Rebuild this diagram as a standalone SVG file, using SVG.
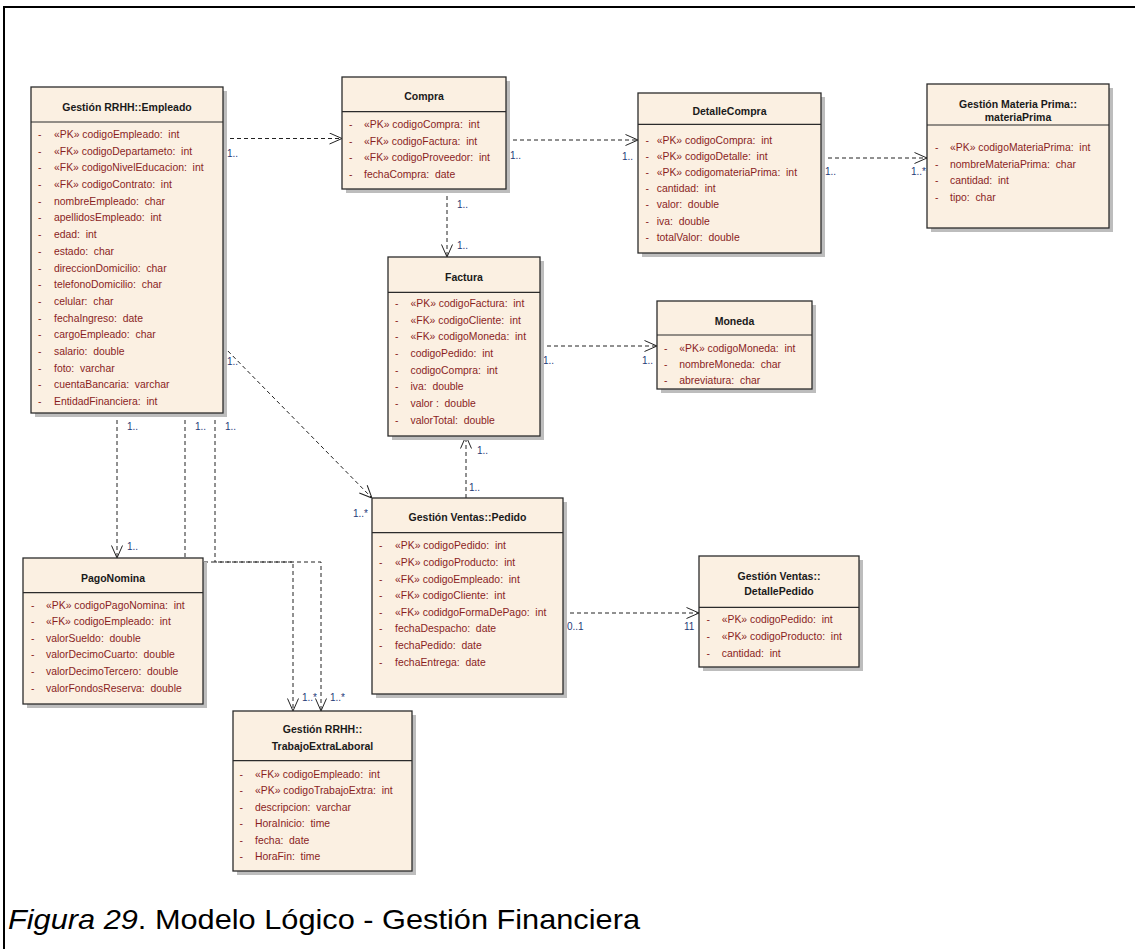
<svg xmlns="http://www.w3.org/2000/svg" width="1135" height="949" viewBox="0 0 1135 949" xml:space="preserve">
  <style>
    .frame { fill: none; stroke: #000; stroke-width: 2; }
    .shadow { fill: #bdbdbd; }
    .box { fill: #fbf0e2; stroke: #2b2b2b; stroke-width: 1.3; }
    .div { stroke: #2b2b2b; stroke-width: 1.2; }
    .title { font-family: "Liberation Sans", Arial, sans-serif; font-size: 10.5px; font-weight: bold; fill: #1a1a1a; text-anchor: middle; }
    .attr { font-family: "Liberation Sans", Arial, sans-serif; font-size: 10.4px; fill: #8a1e1e; white-space: pre; }
    .mult { font-family: "Liberation Sans", Arial, sans-serif; font-size: 10px; fill: #1f3a78; }
    .dep { fill: none; stroke: #222; stroke-width: 1; stroke-dasharray: 4 3; marker-end: url(#open); }
    .caption { font-family: "Liberation Sans", Arial, sans-serif; font-size: 28.5px; fill: #000; }
  </style>
  <defs>
    <marker id="open" viewBox="0 0 13 12" refX="13" refY="6" markerWidth="13" markerHeight="12" markerUnits="userSpaceOnUse" orient="auto">
      <path d="M0.5,0.5 L13,6 L0.5,11.5" fill="none" stroke="#222" stroke-width="1"/>
    </marker>
  </defs>

  <rect width="1135" height="949" fill="#fff"/>
  <path class="frame" d="M4,949 V7 H1135"/>

  <!-- dependencies -->
  <g id="connectors">
    <path class="dep" d="M223,138.5 H342"/>
    <path class="dep" d="M506,140 H638"/>
    <path class="dep" d="M821,158 H927"/>
    <path class="dep" d="M447,189 V257"/>
    <path class="dep" d="M540,346 H657"/>
    <path class="dep" d="M466,498 V436"/>
    <path class="dep" d="M563,613 H699"/>
    <path class="dep" d="M223,346 L372,498"/>
    <path class="dep" d="M117,413 V558"/>
    <path class="dep" d="M185,413 V562 H293 V711"/>
    <path class="dep" d="M215,413 V562 H321 V711"/>

    <text class="mult" x="227" y="157">1..</text>
    <text class="mult" x="510" y="158.5">1..</text>
    <text class="mult" x="622" y="159.5">1..</text>
    <text class="mult" x="825" y="175">1..</text>
    <text class="mult" x="911" y="175">1..*</text>
    <text class="mult" x="457" y="208">1..</text>
    <text class="mult" x="457" y="248.5">1..</text>
    <text class="mult" x="543" y="363.5">1..</text>
    <text class="mult" x="642" y="363.5">1..</text>
    <text class="mult" x="477" y="454">1..</text>
    <text class="mult" x="469" y="491">1..</text>
    <text class="mult" x="567" y="630">0..1</text>
    <text class="mult" x="684" y="630">11</text>
    <text class="mult" x="227" y="365">1..</text>
    <text class="mult" x="353" y="517">1..*</text>
    <text class="mult" x="127" y="430">1..</text>
    <text class="mult" x="127" y="549.5">1..</text>
    <text class="mult" x="195" y="430">1..</text>
    <text class="mult" x="225" y="430">1..</text>
    <text class="mult" x="302" y="700.5">1..*</text>
    <text class="mult" x="330" y="700.5">1..*</text>
  </g>

  <!-- Gestión RRHH::Empleado -->
  <g id="empleado">
    <rect class="shadow" x="35" y="91" width="192" height="326"/>
    <rect class="box" x="31" y="87" width="192" height="326"/>
    <line class="div" x1="31" y1="122" x2="223" y2="122"/>
    <text class="title" x="127" y="110.5">Gestión RRHH::Empleado</text>
    <text class="attr" y="137.9"><tspan x="38">-</tspan><tspan x="54">«PK» codigoEmpleado:  int</tspan></text>
    <text class="attr" y="154.6"><tspan x="38">-</tspan><tspan x="54">«FK» codigoDepartameto:  int</tspan></text>
    <text class="attr" y="171.3"><tspan x="38">-</tspan><tspan x="54">«FK» codigoNivelEducacion:  int</tspan></text>
    <text class="attr" y="188"><tspan x="38">-</tspan><tspan x="54">«FK» codigoContrato:  int</tspan></text>
    <text class="attr" y="204.7"><tspan x="38">-</tspan><tspan x="54">nombreEmpleado:  char</tspan></text>
    <text class="attr" y="221.4"><tspan x="38">-</tspan><tspan x="54">apellidosEmpleado:  int</tspan></text>
    <text class="attr" y="238.1"><tspan x="38">-</tspan><tspan x="54">edad:  int</tspan></text>
    <text class="attr" y="254.8"><tspan x="38">-</tspan><tspan x="54">estado:  char</tspan></text>
    <text class="attr" y="271.5"><tspan x="38">-</tspan><tspan x="54">direccionDomicilio:  char</tspan></text>
    <text class="attr" y="288.2"><tspan x="38">-</tspan><tspan x="54">telefonoDomicilio:  char</tspan></text>
    <text class="attr" y="304.9"><tspan x="38">-</tspan><tspan x="54">celular:  char</tspan></text>
    <text class="attr" y="321.6"><tspan x="38">-</tspan><tspan x="54">fechaIngreso:  date</tspan></text>
    <text class="attr" y="338.3"><tspan x="38">-</tspan><tspan x="54">cargoEmpleado:  char</tspan></text>
    <text class="attr" y="355"><tspan x="38">-</tspan><tspan x="54">salario:  double</tspan></text>
    <text class="attr" y="371.7"><tspan x="38">-</tspan><tspan x="54">foto:  varchar</tspan></text>
    <text class="attr" y="388.4"><tspan x="38">-</tspan><tspan x="54">cuentaBancaria:  varchar</tspan></text>
    <text class="attr" y="405.1"><tspan x="38">-</tspan><tspan x="54">EntidadFinanciera:  int</tspan></text>
  </g>

  <!-- Compra -->
  <g id="compra">
    <rect class="shadow" x="346" y="81" width="164" height="112"/>
    <rect class="box" x="342" y="77" width="164" height="112"/>
    <line class="div" x1="342" y1="111.7" x2="506" y2="111.7"/>
    <text class="title" x="424" y="99.8">Compra</text>
    <text class="attr" y="127.9"><tspan x="349">-</tspan><tspan x="364">«PK» codigoCompra:  int</tspan></text>
    <text class="attr" y="144.5"><tspan x="349">-</tspan><tspan x="364">«FK» codigoFactura:  int</tspan></text>
    <text class="attr" y="161.1"><tspan x="349">-</tspan><tspan x="364">«FK» codigoProveedor:  int</tspan></text>
    <text class="attr" y="177.7"><tspan x="349">-</tspan><tspan x="364">fechaCompra:  date</tspan></text>
  </g>

  <!-- DetalleCompra -->
  <g id="detalle-compra">
    <rect class="shadow" x="642" y="97" width="183" height="160"/>
    <rect class="box" x="638" y="93" width="183" height="160"/>
    <line class="div" x1="638" y1="124.3" x2="821" y2="124.3"/>
    <text class="title" x="729.5" y="114.8">DetalleCompra</text>
    <text class="attr" y="143.6"><tspan x="645.5">-</tspan><tspan x="656.7">«PK» codigoCompra:  int</tspan></text>
    <text class="attr" y="159.8"><tspan x="645.5">-</tspan><tspan x="656.7">«PK» codigoDetalle:  int</tspan></text>
    <text class="attr" y="176"><tspan x="645.5">-</tspan><tspan x="656.7">«PK» codigomateriaPrima:  int</tspan></text>
    <text class="attr" y="192.2"><tspan x="645.5">-</tspan><tspan x="656.7">cantidad:  int</tspan></text>
    <text class="attr" y="208.4"><tspan x="645.5">-</tspan><tspan x="656.7">valor:  double</tspan></text>
    <text class="attr" y="224.6"><tspan x="645.5">-</tspan><tspan x="656.7">iva:  double</tspan></text>
    <text class="attr" y="240.8"><tspan x="645.5">-</tspan><tspan x="656.7">totalValor:  double</tspan></text>
  </g>

  <!-- Gestión Materia Prima::materiaPrima -->
  <g id="materia-prima">
    <rect class="shadow" x="931" y="88" width="182" height="144"/>
    <rect class="box" x="927" y="84" width="182" height="144"/>
    <line class="div" x1="927" y1="125" x2="1109" y2="125"/>
    <text class="title" x="1018" y="107.8">Gestión Materia Prima::</text>
    <text class="title" x="1018" y="121.1">materiaPrima</text>
    <text class="attr" y="151.3"><tspan x="935">-</tspan><tspan x="950">«PK» codigoMateriaPrima:  int</tspan></text>
    <text class="attr" y="167.7"><tspan x="935">-</tspan><tspan x="950">nombreMateriaPrima:  char</tspan></text>
    <text class="attr" y="184.1"><tspan x="935">-</tspan><tspan x="950">cantidad:  int</tspan></text>
    <text class="attr" y="200.5"><tspan x="935">-</tspan><tspan x="950">tipo:  char</tspan></text>
  </g>

  <!-- Factura -->
  <g id="factura">
    <rect class="shadow" x="392" y="261" width="152" height="179"/>
    <rect class="box" x="388" y="257" width="152" height="179"/>
    <line class="div" x1="388" y1="292.3" x2="540" y2="292.3"/>
    <text class="title" x="464" y="280.5">Factura</text>
    <text class="attr" y="306.9"><tspan x="395">-</tspan><tspan x="410.5">«PK» codigoFactura:  int</tspan></text>
    <text class="attr" y="323.6"><tspan x="395">-</tspan><tspan x="410.5">«FK» codigoCliente:  int</tspan></text>
    <text class="attr" y="340.2"><tspan x="395">-</tspan><tspan x="410.5">«FK» codigoMoneda:  int</tspan></text>
    <text class="attr" y="356.9"><tspan x="395">-</tspan><tspan x="410.5">codigoPedido:  int</tspan></text>
    <text class="attr" y="373.6"><tspan x="395">-</tspan><tspan x="410.5">codigoCompra:  int</tspan></text>
    <text class="attr" y="390.2"><tspan x="395">-</tspan><tspan x="410.5">iva:  double</tspan></text>
    <text class="attr" y="406.9"><tspan x="395">-</tspan><tspan x="410.5">valor :  double</tspan></text>
    <text class="attr" y="423.6"><tspan x="395">-</tspan><tspan x="410.5">valorTotal:  double</tspan></text>
  </g>

  <!-- Moneda -->
  <g id="moneda">
    <rect class="shadow" x="661" y="305" width="155" height="88"/>
    <rect class="box" x="657" y="301" width="155" height="88"/>
    <line class="div" x1="657" y1="335" x2="812" y2="335"/>
    <text class="title" x="734.5" y="324.8">Moneda</text>
    <text class="attr" y="351.9"><tspan x="664">-</tspan><tspan x="679.3">«PK» codigoMoneda:  int</tspan></text>
    <text class="attr" y="368.1"><tspan x="664">-</tspan><tspan x="679.3">nombreMoneda:  char</tspan></text>
    <text class="attr" y="384.3"><tspan x="664">-</tspan><tspan x="679.3">abreviatura:  char</tspan></text>
  </g>

  <!-- Gestión Ventas::Pedido -->
  <g id="pedido">
    <rect class="shadow" x="376" y="502" width="191" height="196"/>
    <rect class="box" x="372" y="498" width="191" height="196"/>
    <line class="div" x1="372" y1="532.7" x2="563" y2="532.7"/>
    <text class="title" x="467.5" y="521.1">Gestión Ventas::Pedido</text>
    <text class="attr" y="549.3"><tspan x="379">-</tspan><tspan x="395">«PK» codigoPedido:  int</tspan></text>
    <text class="attr" y="565.9"><tspan x="379">-</tspan><tspan x="395">«PK» codigoProducto:  int</tspan></text>
    <text class="attr" y="582.5"><tspan x="379">-</tspan><tspan x="395">«FK» codigoEmpleado:  int</tspan></text>
    <text class="attr" y="599.1"><tspan x="379">-</tspan><tspan x="395">«FK» codigoCliente:  int</tspan></text>
    <text class="attr" y="615.7"><tspan x="379">-</tspan><tspan x="395">«FK» codidgoFormaDePago:  int</tspan></text>
    <text class="attr" y="632.3"><tspan x="379">-</tspan><tspan x="395">fechaDespacho:  date</tspan></text>
    <text class="attr" y="648.9"><tspan x="379">-</tspan><tspan x="395">fechaPedido:  date</tspan></text>
    <text class="attr" y="665.5"><tspan x="379">-</tspan><tspan x="395">fechaEntrega:  date</tspan></text>
  </g>

  <!-- Gestión Ventas::DetallePedido -->
  <g id="detalle-pedido">
    <rect class="shadow" x="703" y="560" width="160" height="111"/>
    <rect class="box" x="699" y="556" width="160" height="111"/>
    <line class="div" x1="699" y1="607.3" x2="859" y2="607.3"/>
    <text class="title" x="779" y="579.5">Gestión Ventas::</text>
    <text class="title" x="779" y="594.8">DetallePedido</text>
    <text class="attr" y="622.9"><tspan x="706.5">-</tspan><tspan x="721.7">«PK» codigoPedido:  int</tspan></text>
    <text class="attr" y="639.6"><tspan x="706.5">-</tspan><tspan x="721.7">«PK» codigoProducto:  int</tspan></text>
    <text class="attr" y="656.6"><tspan x="706.5">-</tspan><tspan x="721.7">cantidad:  int</tspan></text>
  </g>

  <!-- PagoNomina -->
  <g id="pago-nomina">
    <rect class="shadow" x="27" y="562" width="180" height="146"/>
    <rect class="box" x="23" y="558" width="180" height="146"/>
    <line class="div" x1="23" y1="592.7" x2="203" y2="592.7"/>
    <text class="title" x="113" y="581.8">PagoNomina</text>
    <text class="attr" y="608.6"><tspan x="31">-</tspan><tspan x="46">«PK» codigoPagoNomina:  int</tspan></text>
    <text class="attr" y="625.2"><tspan x="31">-</tspan><tspan x="46">«FK» codigoEmpleado:  int</tspan></text>
    <text class="attr" y="641.8"><tspan x="31">-</tspan><tspan x="46">valorSueldo:  double</tspan></text>
    <text class="attr" y="658.4"><tspan x="31">-</tspan><tspan x="46">valorDecimoCuarto:  double</tspan></text>
    <text class="attr" y="675"><tspan x="31">-</tspan><tspan x="46">valorDecimoTercero:  double</tspan></text>
    <text class="attr" y="691.6"><tspan x="31">-</tspan><tspan x="46">valorFondosReserva:  double</tspan></text>
  </g>

  <!-- Gestión RRHH::TrabajoExtraLaboral -->
  <g id="trabajo-extra">
    <rect class="shadow" x="237" y="715" width="179" height="160"/>
    <rect class="box" x="233" y="711" width="179" height="160"/>
    <line class="div" x1="233" y1="760.7" x2="412" y2="760.7"/>
    <text class="title" x="322.5" y="733.1">Gestión RRHH::</text>
    <text class="title" x="322.5" y="749.5">TrabajoExtraLaboral</text>
    <text class="attr" y="777.6"><tspan x="239.5">-</tspan><tspan x="255">«FK» codigoEmpleado:  int</tspan></text>
    <text class="attr" y="794.1"><tspan x="239.5">-</tspan><tspan x="255">«PK» codigoTrabajoExtra:  int</tspan></text>
    <text class="attr" y="810.6"><tspan x="239.5">-</tspan><tspan x="255">descripcion:  varchar</tspan></text>
    <text class="attr" y="827.1"><tspan x="239.5">-</tspan><tspan x="255">HoraInicio:  time</tspan></text>
    <text class="attr" y="843.6"><tspan x="239.5">-</tspan><tspan x="255">fecha:  date</tspan></text>
    <text class="attr" y="860.1"><tspan x="239.5">-</tspan><tspan x="255">HoraFin:  time</tspan></text>
  </g>

  <text class="caption" x="8" y="929" textLength="632" lengthAdjust="spacingAndGlyphs"><tspan font-style="italic">Figura 29</tspan>. Modelo Lógico - Gestión Financiera</text>
</svg>
